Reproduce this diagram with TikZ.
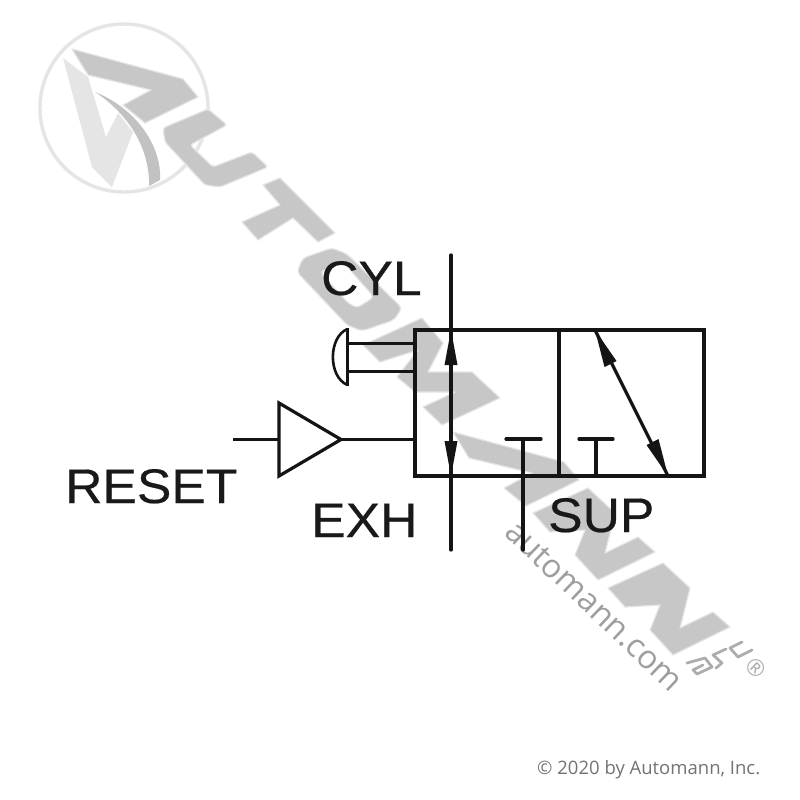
\documentclass[tikz,border=0pt]{standalone}
\usepackage{fontspec}
\setmainfont{Liberation Sans}
\newfontfamily\lblfont{Liberation Sans}[FakeBold=0.4,FakeStretch=1.065]
\newfontfamily\wmfont{Open Sans}
\tikzset{
  wm/.style={fill=black!22,draw=black!10,line width=1.2pt,line join=round},
  wml/.style={fill=black!10,draw=none},
  pipe/.style={draw=black!92,line width=3.2pt,line cap=round},
  frame/.style={draw=black!92,line width=3.8pt,line join=miter},
  lbl/.style={anchor=base west,inner sep=0pt,font=\lblfont\fontsize{48.5}{48.5}\selectfont,text=black!90},
  ah/.style={fill=black!92,draw=none},
  tiny/.style={draw=black!32,line width=2.8pt,line join=round,line cap=round},
}
\begin{document}
\begin{tikzpicture}[x=1pt,y=-1pt]
\useasboundingbox (0,0) rectangle (800,800);
\fill[white] (0,0) rectangle (800,800);
% logo
\draw[draw=black!10,line width=3.4pt] (124,108) circle (84);
\fill[wml] (63,58)--(88,77)--(106,137)--(118,113)--(133,132)--(112,187)--(92,167)--cycle;
\fill[black!24] (95,92) .. controls (135,108) and (162,145) .. (160,180) -- (149,186) .. controls (150,150) and (130,115) .. (95,92) -- cycle;
% watermark letters
\path[wm] (72,49)--(183,79)--(198,97)--(145,123)--(123,105)--(151,90)--(88,75)--cycle;
\path[wm,rounded corners=3pt] (208,109)--(227,125)--(190,145)--(213,167)--(252,152)--(268,167)--(220,187)--(205,185)--(165,142)--(163,128)--cycle;
\path[wm] (280,178)--(335,233)--(318,242)--(293,218)--(258,240)--(242,222)--(280,205)--(263,185)--cycle;
\path[wm,even odd rule,rounded corners=4pt] (297,272)--(303,258)--(332,248)--(347,254)--(402,308)--(394,320)--(362,331)--(347,325)--cycle
 (320,272)--(343,262)--(374,297)--(357,308)--(348,303)--cycle;
\path[wm] (363,345)--(422,318)--(443,343)--(428,372)--(472,372)--(500,398)--(442,425)--(423,407)--(455,392)--(415,392)--(397,377)--(418,350)--(380,362)--cycle;
\path[wm] (453,432)--(564,462)--(579,480)--(526,506)--(504,488)--(532,473)--(469,458)--cycle;
\path[wm] (533,513)--(588,488)--(615,513)--(605,553)--(638,537)--(655,552)--(598,580)--(575,555)--(585,530)--(550,532)--cycle;
\path[wm] (608,588)--(663,563)--(690,588)--(680,628)--(713,612)--(730,627)--(673,655)--(650,630)--(660,605)--(625,607)--cycle;
% USA
\draw[tiny] (742,642)--(730,648)--(738,657)--(752,650);
\draw[tiny] (726,649)--(713,655)--(722,663)--(716,668);
\draw[tiny] (687,663)--(705,658)--(712,667)--(697,674)--(693,670)--(703,665);
\node[inner sep=0pt,text=black!30,rotate=-43,font=\wmfont\fontsize{23}{23}\selectfont] (reg) at (756,668) {®};
\node[inner sep=0pt,anchor=base west,rotate=-43.6,text=black!38,font=\wmfont\fontsize{32.5}{32.5}\selectfont] (url) at (503,534) {automann.com};
\node[inner sep=0pt,anchor=base west,text=black!55,font=\wmfont\fontsize{18.5}{18.5}\selectfont] (copy) at (537,774) {© 2020 by Automann, Inc.};
% valve
\coordinate (tl) at (415,330); \coordinate (tm) at (559,330); \coordinate (tr) at (704,330);
\coordinate (bl) at (415,476); \coordinate (bm) at (559,476); \coordinate (br) at (704,476);
\draw[frame] (tl) rectangle (br);
\draw[frame] (tm)--(bm);
% vertical flow line
\coordinate (vtop) at (451,255); \coordinate (vbot) at (451,550);
\draw[pipe] (vtop)--(vbot);
\fill[ah] (451,330)--(457.5,365)--(444.5,365)--cycle;
\fill[ah] (451,476)--(457.5,441)--(444.5,441)--cycle;
% diagonal flow line
\coordinate (da) at (595,330); \coordinate (db) at (668,476);
\draw[pipe] (da)--(db);
\fill[ah] (da)--(616.5,361)--(604.5,367)--cycle;
\fill[ah] (db)--(646.5,445)--(658.5,439)--cycle;
% blocked ports
\coordinate (t1l) at (506,439); \coordinate (t1r) at (541,439); \coordinate (t1t) at (523,439); \coordinate (t1b) at (523,550);
\draw[pipe] (t1l)--(t1r); \draw[pipe] (t1t)--(t1b);
\coordinate (t2l) at (579,439); \coordinate (t2r) at (613,439); \coordinate (t2t) at (596,439); \coordinate (t2b) at (596,476);
\draw[pipe] (t2l)--(t2r); \draw[pipe] (t2t)--(t2b);
% plunger
\draw[pipe,line width=3pt,line cap=butt] (347.5,343)--(415,343);
\draw[pipe,line width=3pt,line cap=butt] (347.5,371)--(415,371);
\draw[pipe,line cap=butt,line width=3.4pt] (347.5,328)--(347.5,386);
\draw[pipe,line width=2.6pt,line cap=butt] (347.5,329) .. controls (328,337) and (328,377) .. (347.5,385);
% reset pilot
\coordinate (pa) at (279,403); \coordinate (pb) at (341,439.5); \coordinate (pc) at (279,476);
\draw[pipe,line join=miter] (pa)--(pb)--(pc)--cycle;
\draw[pipe,line cap=butt] (233,439.5)--(279,439.5);
\draw[pipe,line cap=butt] (pb)--(415,439.5);
% labels
\node[lbl] (cyl) at (321,295) {CYL};
\node[lbl] (reset) at (65,503) {RESET};
\node[lbl] (exh) at (311,537) {EXH};
\node[lbl] (sup) at (548,532) {SUP};
\end{tikzpicture}
\end{document}
